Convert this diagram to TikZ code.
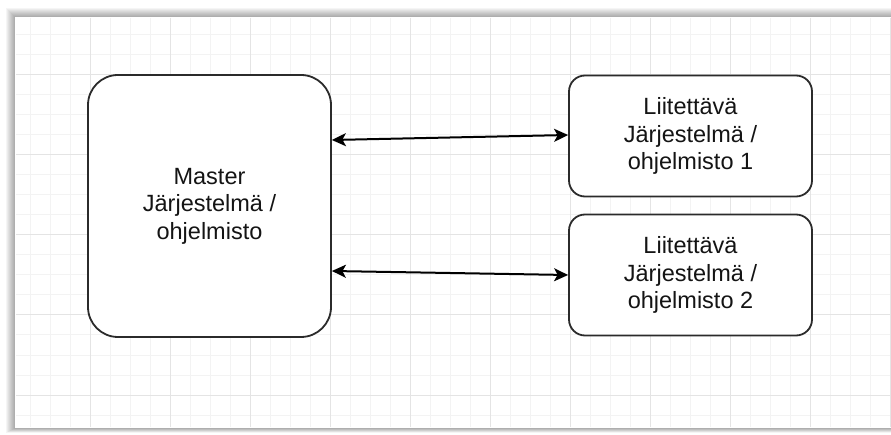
\documentclass[tikz,border=0pt]{standalone}
\usepackage{fontspec}
\setmainfont{Liberation Sans}
\usetikzlibrary{arrows.meta}
\definecolor{minorgrid}{HTML}{F3F3F3}
\definecolor{majorgrid}{HTML}{E4E4E4}
\definecolor{boxline}{HTML}{2B2B2B}
\definecolor{txt}{HTML}{141414}
\tikzset{
  box/.style={draw=boxline, line width=1.8pt, fill=white, align=center,
    text=txt, font=\fontsize{23.5}{27.5}\selectfont, inner sep=0pt},
  bigbox/.style={box, minimum width=243pt, minimum height=262pt, rounded corners=30pt},
  smallbox/.style={box, minimum width=243pt, minimum height=121pt, rounded corners=16pt},
  arr/.style={line width=2pt, draw=black, {Stealth[length=14pt,width=13pt,inset=3.5pt]}-{Stealth[length=14pt,width=13pt,inset=3.5pt]}},
}
\begin{document}
\begin{tikzpicture}[x=1pt,y=-1pt]
\useasboundingbox (0,0) rectangle (891,435);
\fill[white] (0,0) rectangle (891,435);
% shadow of the page frame
\foreach \i in {1,...,9}{
  \fill[black, opacity=0.04] (15-\i,17-\i) rectangle (891,428+\i*0.5);
}
\fill[white] (15,17) rectangle (891,428);
% grid
\begin{scope}
\clip (16,18) rectangle (891,427);
\foreach \x in {10,30,...,890} \draw[minorgrid, line width=1pt] (\x,18) -- (\x,427);
\foreach \y in {15,35,...,435} \draw[minorgrid, line width=1pt] (16,\y) -- (891,\y);
\foreach \x in {10,90,...,890} \draw[majorgrid, line width=1pt] (\x,18) -- (\x,427);
\foreach \y in {75,155,...,435} \draw[majorgrid, line width=1pt] (16,\y) -- (891,\y);
\end{scope}
% nodes
\node[bigbox] (m) at (209.5,206) {Master\\Järjestelmä /\\ohjelmisto};
\node[smallbox] (b1) at (690.5,136) {Liitettävä\\Järjestelmä /\\ohjelmisto 1};
\node[smallbox] (b2) at (690.5,275) {Liitettävä\\Järjestelmä /\\ohjelmisto 2};
% connectors
\draw[arr] (m.east |- 0,140) -- (b1.west |- 0,135);
\draw[arr] (m.east |- 0,271) -- (b2.west |- 0,275);
\end{tikzpicture}
\end{document}
